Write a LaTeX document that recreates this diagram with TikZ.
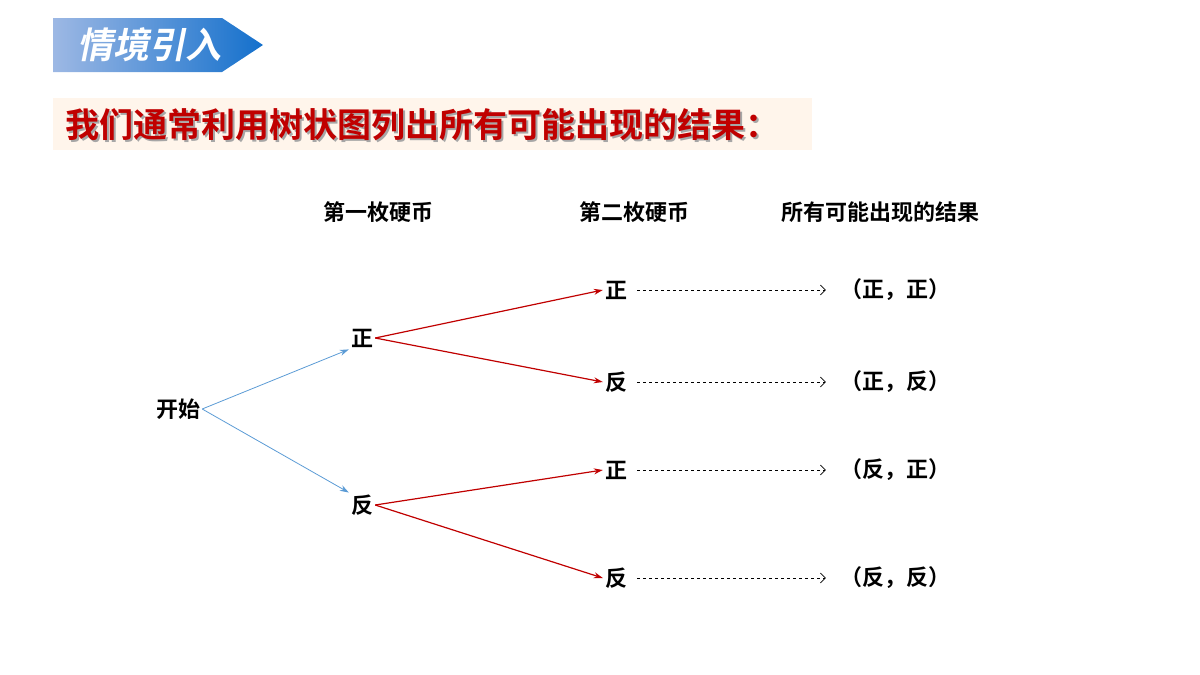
\documentclass[tikz,border=0pt]{standalone}
\usepackage{fontspec}
\newfontfamily\cjk{Noto Sans CJK SC Bold}
\usetikzlibrary{arrows.meta,shadings}
\definecolor{dred}{HTML}{C00000}
\definecolor{lblue}{HTML}{5B9BD5}
\definecolor{bl1}{HTML}{9DB8E4}
\definecolor{bl2}{HTML}{1470CC}
\begin{document}
\begin{tikzpicture}[x=1pt,y=-1pt,
  lab/.style={font=\cjk\fontsize{22}{26}\selectfont,inner sep=2pt},
  br/.style={draw=dred,line width=1.2pt,-{Stealth[length=9pt,width=6pt]}},
  bb/.style={draw=lblue,line width=0.8pt,-{Stealth[length=9pt,width=6pt]}},
  dsh/.style={draw=black,dashed,line width=0.6pt,-{Straight Barb[length=5pt]}}]
\useasboundingbox (0,0) rectangle (1200,675);
\shade[left color=bl1,right color=bl2] (53,18)--(222,18)--(263,45)--(222,72)--(53,72)--cycle;
\node[font=\cjk\fontsize{36}{40}\selectfont,text=white,xslant=0.2] (ban) at (152,45) {情境引入};
\fill[orange!8] (53,98) rectangle (812,150);
\node[anchor=west,font=\cjk\fontsize{34}{38}\selectfont,text=black!35] at (64,127) {我们通常利用树状图列出所有可能出现的结果：};
\node[anchor=west,font=\cjk\fontsize{34}{38}\selectfont,text=dred] (title) at (62,125) {我们通常利用树状图列出所有可能出现的结果：};
\node[lab] (h1) at (378,212) {第一枚硬币};
\node[lab] (h2) at (634,212) {第二枚硬币};
\node[lab] (h3) at (880,212) {所有可能出现的结果};
\node[lab] (s) at (178,409) {开始};
\node[lab] (a) at (362,338) {正};
\node[lab] (b) at (362,505) {反};
\node[lab] (a1) at (616,290) {正};
\node[lab] (a2) at (616,382) {反};
\node[lab] (b1) at (616,470) {正};
\node[lab] (b2) at (616,578) {反};
\node[lab] (r1) at (895,290) {（正，正）};
\node[lab] (r2) at (895,382) {（正，反）};
\node[lab] (r3) at (895,470) {（反，正）};
\node[lab] (r4) at (895,578) {（反，反）};
\draw[bb] (s.east) -- (a.south west);
\draw[bb] (s.east) -- (b.north west);
\foreach \p/\q in {a/a1,a/a2,b/b1,b/b2}{\draw[br] (\p.east) -- (\q.west);}
\foreach \p/\q in {a1/r1,a2/r2,b1/r3,b2/r4}{\draw[dsh] (\p.east)++(8,0) -- ([xshift=-12pt]\q.west);}
\end{tikzpicture}
\end{document}
